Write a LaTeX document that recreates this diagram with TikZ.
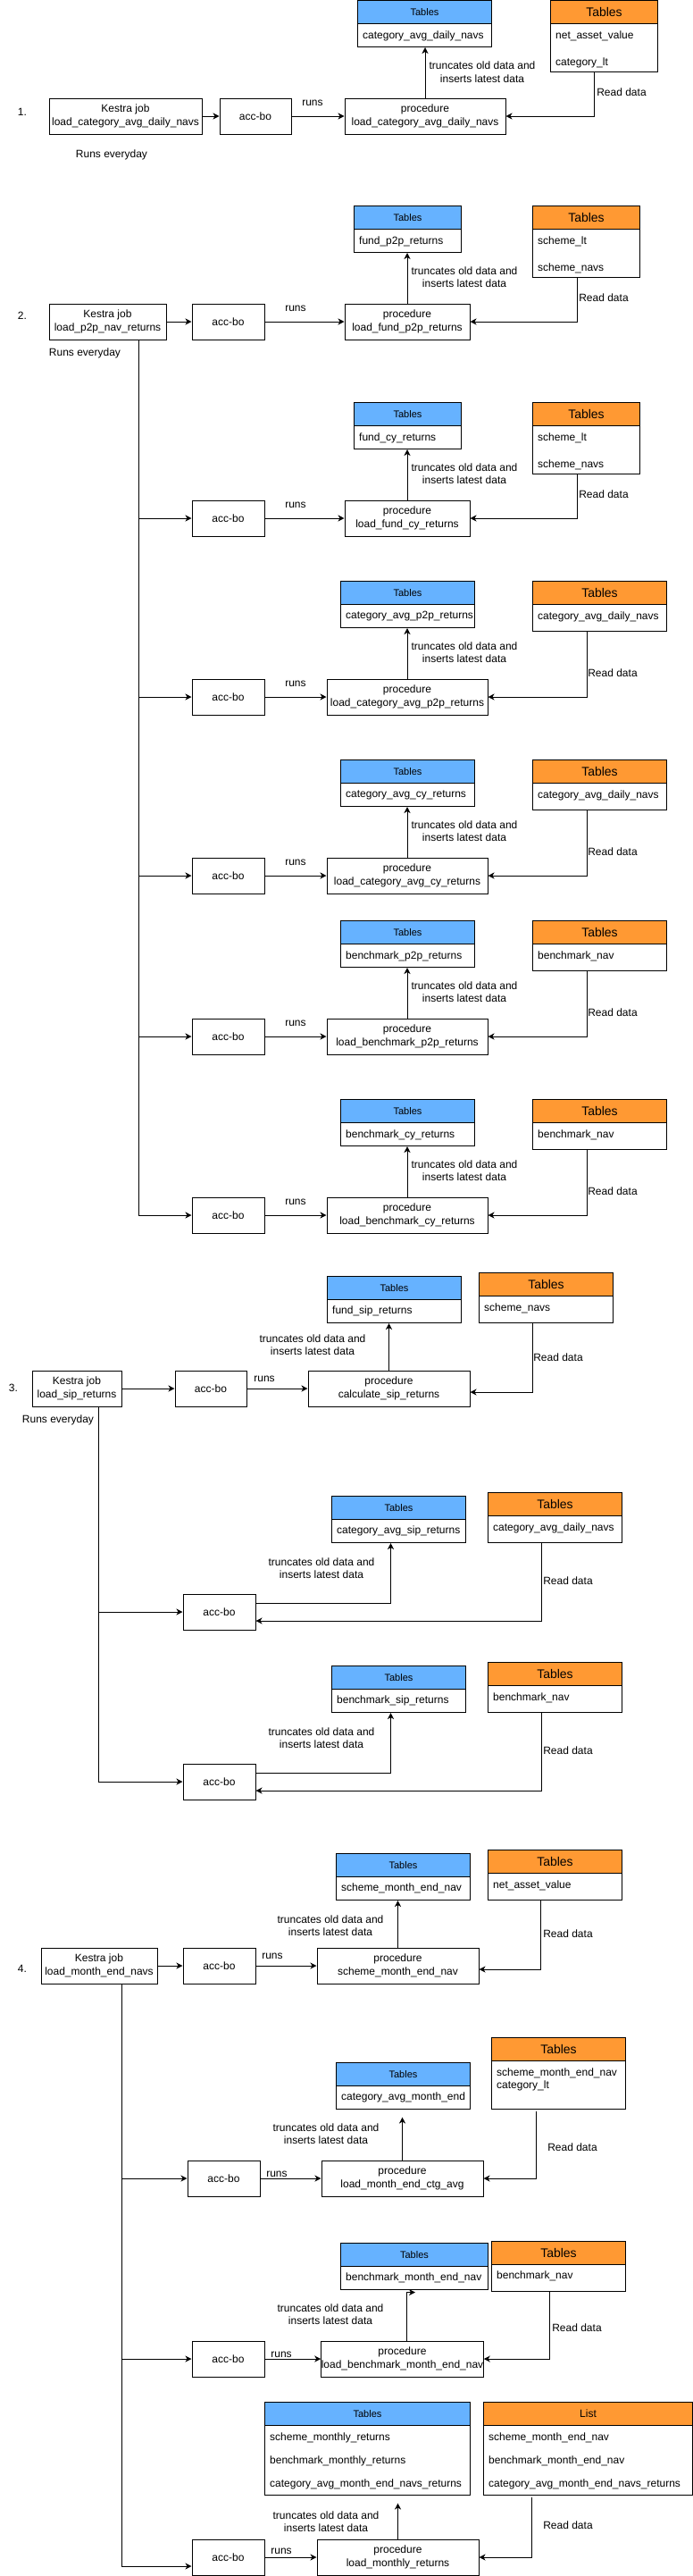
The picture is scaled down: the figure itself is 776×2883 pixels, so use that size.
\documentclass[tikz,border=0pt]{standalone}
\usepackage{fontspec}
\setmainfont{Liberation Sans}
\usetikzlibrary{arrows.meta}
\definecolor{bh}{HTML}{66B2FF}
\definecolor{oh}{HTML}{FF9933}
\newcommand\fs{\fontsize{12}{14.5}\selectfont}
\tikzset{
 x=1pt,y=-1pt,
 box/.style={draw,line width=1pt,fill=white,align=center,font=\fs,inner sep=0pt,minimum height=40pt},
 bhead/.style={draw,line width=1pt,fill=bh,anchor=north west,minimum height=26pt,inner sep=0pt,font=\fontsize{11}{13}\selectfont},
 ohead/.style={draw,line width=1pt,fill=oh,anchor=north west,minimum height=26pt,inner sep=0pt,font=\fontsize{14}{16}\selectfont},
 tbody/.style={draw,line width=1pt,fill=white,anchor=north west,inner sep=0pt},
 row/.style={anchor=west,inner sep=0pt,font=\fs},
 lbl/.style={align=center,inner sep=0pt,font=\fs},
 conn/.style={line width=1pt},
 arr/.style={line width=1pt,-{Stealth[length=7pt,width=7pt,inset=2pt]}},
}
% name, x, y, width, body height
\newcommand\btab[5]{%
 \node[bhead,minimum width=#4pt] (#1h) at (#2,#3) {Tables};
 \node[tbody,minimum width=#4pt,minimum height=#5pt] (#1) at (#2,#3+26) {};}
% name, x, y, width, body height, header
\newcommand\otab[6]{%
 \node[ohead,minimum width=#4pt] (#1h) at (#2,#3) {#6};
 \node[tbody,minimum width=#4pt,minimum height=#5pt] (#1) at (#2,#3+26) {};}
\begin{document}
\begin{tikzpicture}
\useasboundingbox (0,0) rectangle (776,2883);
%================ 1 ================
\node[lbl] (n1) at (25,125) {1.};
\node[box,minimum width=171pt] (k1) at (140.5,130) {Kestra job\\load\_category\_avg\_daily\_navs};
\node[box,minimum width=80pt] (a1) at (286,130) {acc-bo};
\node[box,minimum width=180pt] (p1) at (476,130) {procedure\\load\_category\_avg\_daily\_navs};
\btab{t1}{400}{0}{150}{26}
\node[row] (t1r1) at (406,40) {category\_avg\_daily\_navs};
\otab{o1}{616}{0}{120}{54}{Tables}
\node[row] (o1r1) at (622,40) {net\_asset\_value};
\node[row] (o1r2) at (622,70) {category\_lt};
\node[lbl] (l1a) at (350,115) {runs};
\node[lbl] (l1b) at (540,80.5) {truncates old data and\\inserts latest data};
\node[lbl] (l1c) at (696,103) {Read data};
\node[lbl] (l1d) at (125,173) {Runs everyday};
\draw[arr] (k1) -- (a1);
\draw[arr] (a1) -- (p1);
\draw[arr] (p1.north) -- (p1.north |- t1.south);
\coordinate (r1) at (665,80);
\draw[arr] (r1) |- (p1.east);
%================ 2 ================
\node[lbl] (n2) at (25,353) {2.};
\node[box,minimum width=131pt] (k2) at (120.5,360) {Kestra job\\load\_p2p\_nav\_returns};
\node[box,minimum width=81pt] (a2) at (255.5,360) {acc-bo};
\node[box,minimum width=140pt] (p2) at (456,360) {procedure\\load\_fund\_p2p\_returns};
\btab{t2}{396}{230}{120}{26}
\node[row] (t2r1) at (402,270) {fund\_p2p\_returns};
\otab{o2}{596}{230}{120}{54}{Tables}
\node[row] (o2r1) at (602,270) {scheme\_lt};
\node[row] (o2r2) at (602,300) {scheme\_navs};
\node[lbl] (l2a) at (331,345) {runs};
\node[lbl] (l2b) at (520,310) {truncates old data and\\inserts latest data};
\node[lbl] (l2c) at (676,333) {Read data};
\node[lbl] (l2d) at (95,395) {Runs everyday};
\draw[arr] (k2) -- (a2);
\draw[arr] (a2) -- (p2);
\draw[arr] (p2.north) -- (p2.north |- t2.south);
\coordinate (r2) at (646,310);
\draw[arr] (r2) |- (p2.east);
% 2b
\node[box,minimum width=81pt] (a3) at (255.5,580) {acc-bo};
\node[box,minimum width=140pt] (p3) at (456,580) {procedure\\load\_fund\_cy\_returns};
\btab{t3}{396}{450}{120}{26}
\node[row] (t3r1) at (402,490) {fund\_cy\_returns};
\otab{o3}{596}{450}{120}{54}{Tables}
\node[row] (o3r1) at (602,490) {scheme\_lt};
\node[row] (o3r2) at (602,520) {scheme\_navs};
\node[lbl] (l3a) at (331,565) {runs};
\node[lbl] (l3b) at (520,530) {truncates old data and\\inserts latest data};
\node[lbl] (l3c) at (676,553) {Read data};
\draw[arr] (a3) -- (p3);
\draw[arr] (p3.north) -- (p3.north |- t3.south);
\coordinate (r3) at (646,530);
\draw[arr] (r3) |- (p3.east);
% 2c
\node[box,minimum width=81pt] (a4) at (255.5,780) {acc-bo};
\node[box,minimum width=180pt] (p4) at (456,780) {procedure\\load\_category\_avg\_p2p\_returns};
\btab{t4}{381}{650}{150}{26}
\node[row] (t4r1) at (387,690) {category\_avg\_p2p\_returns};
\otab{o4}{596}{650}{150}{30}{Tables}
\node[row] (o4r1) at (602,690) {category\_avg\_daily\_navs};
\node[lbl] (l4a) at (331,765) {runs};
\node[lbl] (l4b) at (520,730) {truncates old data and\\inserts latest data};
\node[lbl] (l4c) at (686,753) {Read data};
\draw[arr] (a4) -- (p4);
\draw[arr] (p4.north) -- (p4.north |- t4.south);
\coordinate (r4) at (657,706);
\draw[arr] (r4) |- (p4.east);
% 2d
\node[box,minimum width=81pt] (a5) at (255.5,980) {acc-bo};
\node[box,minimum width=180pt] (p5) at (456,980) {procedure\\load\_category\_avg\_cy\_returns};
\btab{t5}{381}{850}{150}{26}
\node[row] (t5r1) at (387,890) {category\_avg\_cy\_returns};
\otab{o5}{596}{850}{150}{30}{Tables}
\node[row] (o5r1) at (602,890) {category\_avg\_daily\_navs};
\node[lbl] (l5a) at (331,965) {runs};
\node[lbl] (l5b) at (520,930) {truncates old data and\\inserts latest data};
\node[lbl] (l5c) at (686,953) {Read data};
\draw[arr] (a5) -- (p5);
\draw[arr] (p5.north) -- (p5.north |- t5.south);
\coordinate (r5) at (657,906);
\draw[arr] (r5) |- (p5.east);
% 2e
\node[box,minimum width=81pt] (a6) at (255.5,1160) {acc-bo};
\node[box,minimum width=180pt] (p6) at (456,1160) {procedure\\load\_benchmark\_p2p\_returns};
\btab{t6}{381}{1030}{150}{26}
\node[row] (t6r1) at (387,1070) {benchmark\_p2p\_returns};
\otab{o6}{596}{1030}{150}{30}{Tables}
\node[row] (o6r1) at (602,1070) {benchmark\_nav};
\node[lbl] (l6a) at (331,1145) {runs};
\node[lbl] (l6b) at (520,1110) {truncates old data and\\inserts latest data};
\node[lbl] (l6c) at (686,1133) {Read data};
\draw[arr] (a6) -- (p6);
\draw[arr] (p6.north) -- (p6.north |- t6.south);
\coordinate (r6) at (657,1086);
\draw[arr] (r6) |- (p6.east);
% 2f
\node[box,minimum width=81pt] (a7) at (255.5,1360) {acc-bo};
\node[box,minimum width=180pt] (p7) at (456,1360) {procedure\\load\_benchmark\_cy\_returns};
\btab{t7}{381}{1230}{150}{26}
\node[row] (t7r1) at (387,1270) {benchmark\_cy\_returns};
\otab{o7}{596}{1230}{150}{30}{Tables}
\node[row] (o7r1) at (602,1270) {benchmark\_nav};
\node[lbl] (l7a) at (331,1345) {runs};
\node[lbl] (l7b) at (520,1310) {truncates old data and\\inserts latest data};
\node[lbl] (l7c) at (686,1333) {Read data};
\draw[arr] (a7) -- (p7);
\draw[arr] (p7.north) -- (p7.north |- t7.south);
\coordinate (r7) at (657,1286);
\draw[arr] (r7) |- (p7.east);
% trunk 2
\coordinate (tk2) at (155,380);
\draw[arr] (tk2) |- (a7.west);
\coordinate (j3) at (155,580);
\coordinate (j4) at (155,780);
\coordinate (j5) at (155,980);
\coordinate (j6) at (155,1160);
\draw[arr] (j3) -- (a3.west);
\draw[arr] (j4) -- (a4.west);
\draw[arr] (j5) -- (a5.west);
\draw[arr] (j6) -- (a6.west);
%================ 3 ================
\node[lbl] (n3) at (15,1553) {3.};
\node[box,minimum width=100pt] (k3) at (86,1554) {Kestra job\\load\_sip\_returns};
\node[box,minimum width=80pt] (a8) at (236,1554) {acc-bo};
\node[box,minimum width=181pt] (p8) at (435.5,1554) {procedure\\calculate\_sip\_returns};
\btab{t8}{366}{1428}{150}{26}
\node[row] (t8r1) at (372,1467) {fund\_sip\_returns};
\otab{o8}{536}{1424}{150}{30}{Tables}
\node[row] (o8r1) at (542,1464) {scheme\_navs};
\node[lbl] (l8a) at (296,1543) {runs};
\node[lbl] (l8b) at (350,1505) {truncates old data and\\inserts latest data};
\node[lbl] (l8c) at (625,1519) {Read data};
\node[lbl] (l8d) at (65,1589) {Runs everyday};
\draw[arr] (k3) -- (a8);
\draw[arr] (a8) -- (p8);
\draw[arr] (p8.north) -- (p8.north |- t8.south);
\coordinate (r8) at (596,1480);
\draw[arr] (r8) |- ([yshift=-4pt]p8.east);
% 3b
\node[box,minimum width=81pt] (a9) at (245.5,1804) {acc-bo};
\btab{t9}{371}{1674}{150}{26}
\node[row] (t9r1) at (377,1713) {category\_avg\_sip\_returns};
\otab{o9}{546}{1670}{150}{30}{Tables}
\node[row] (o9r1) at (552,1710) {category\_avg\_daily\_navs};
\node[lbl] (l9b) at (360,1755) {truncates old data and\\inserts latest data};
\node[lbl] (l9c) at (636,1769) {Read data};
\draw[arr] ([yshift=10pt]a9.east) -| ([xshift=-9pt]t9.south);
\coordinate (r9) at (606,1726);
\draw[arr] (r9) |- ([yshift=-10pt]a9.east);
% 3c
\node[box,minimum width=81pt] (a10) at (245.5,1994) {acc-bo};
\btab{t10}{371}{1864}{150}{26}
\node[row] (t10r1) at (377,1903) {benchmark\_sip\_returns};
\otab{o10}{546}{1860}{150}{30}{Tables}
\node[row] (o10r1) at (552,1900) {benchmark\_nav};
\node[lbl] (l10b) at (360,1945) {truncates old data and\\inserts latest data};
\node[lbl] (l10c) at (636,1959) {Read data};
\draw[arr] ([yshift=10pt]a10.east) -| ([xshift=-9pt]t10.south);
\coordinate (r10) at (606,1916);
\draw[arr] (r10) |- ([yshift=-10pt]a10.east);
% trunk 3
\coordinate (tk3) at (110,1574);
\draw[arr] (tk3) |- (a10.west);
\coordinate (j9) at (110,1804);
\draw[arr] (j9) -- (a9.west);
%================ 4 ================
\node[lbl] (n4) at (25,2203) {4.};
\node[box,minimum width=130pt] (k4) at (111,2200) {Kestra job\\load\_month\_end\_navs};
\node[box,minimum width=81pt] (a11) at (245.5,2200) {acc-bo};
\node[box,minimum width=181pt] (p11) at (445.5,2200) {procedure\\scheme\_month\_end\_nav};
\btab{t11}{376}{2074}{150}{26}
\node[row] (t11r1) at (382,2113) {scheme\_month\_end\_nav};
\otab{o11}{546}{2070}{150}{30}{Tables}
\node[row] (o11r1) at (552,2110) {net\_asset\_value};
\node[lbl] (l11a) at (305,2189) {runs};
\node[lbl] (l11b) at (370,2155) {truncates old data and\\inserts latest data};
\node[lbl] (l11c) at (636,2164) {Read data};
\draw[arr] (k4) -- (a11);
\draw[arr] (a11) -- (p11);
\draw[arr] (p11.north) -- (p11.north |- t11.south);
\coordinate (r11) at (605,2126);
\draw[arr] (r11) |- ([yshift=-4pt]p11.east);
% 4b
\node[box,minimum width=81pt] (a12) at (250.5,2438) {acc-bo};
\node[box,minimum width=181pt] (p12) at (450.5,2438) {procedure\\load\_month\_end\_ctg\_avg};
\btab{t12}{376}{2308}{150}{26}
\node[row] (t12r1) at (382,2347) {category\_avg\_month\_end};
\otab{o12}{550}{2280}{150}{54}{Tables}
\node[row] (o12r1) at (556,2320) {scheme\_month\_end\_nav};
\node[row] (o12r2) at (556,2334) {category\_lt};
\node[lbl] (l12a) at (310,2433) {runs};
\node[lbl] (l12b) at (365,2388) {truncates old data and\\inserts latest data};
\node[lbl] (l12c) at (641,2403) {Read data};
\draw[arr] (a12) -- (p12);
\draw[arr] (p12.north) -- ++(0,-48);
\coordinate (r12) at (600,2363);
\draw[arr] (r12) |- (p12.east);
% 4c
\node[box,minimum width=81pt] (a13) at (255.5,2640) {acc-bo};
\node[box,minimum width=181pt] (p13) at (450.5,2640) {procedure\\load\_benchmark\_month\_end\_nav};
\btab{t13}{381}{2510}{165}{26}
\node[row] (t13r1) at (387,2549) {benchmark\_month\_end\_nav};
\otab{o13}{550}{2508}{150}{30}{Tables}
\node[row] (o13r1) at (556,2547) {benchmark\_nav};
\node[lbl] (l13a) at (315,2635) {runs};
\node[lbl] (l13b) at (370,2590) {truncates old data and\\inserts latest data};
\node[lbl] (l13c) at (646,2605) {Read data};
\draw[arr] (a13) -- (p13);
\draw[arr] ([xshift=4.5pt]p13.north) |- ++(10,-54);
\coordinate (r13) at (615,2564);
\draw[arr] (r13) |- (p13.east);
% 4d
\node[box,minimum width=81pt] (a14) at (255.5,2862) {acc-bo};
\node[box,minimum width=181pt] (p14) at (445.5,2862) {procedure\\load\_monthly\_returns};
\btab{t14}{296}{2688}{230}{78}
\node[row] (t14r1) at (302,2728) {scheme\_monthly\_returns};
\node[row] (t14r2) at (302,2754) {benchmark\_monthly\_returns};
\node[row] (t14r3) at (302,2780) {category\_avg\_month\_end\_navs\_returns};
\otab{o14}{541}{2688}{234}{78}{\fontsize{12}{14}\selectfont List}
\node[row] (o14r1) at (547,2728) {scheme\_month\_end\_nav};
\node[row] (o14r2) at (547,2754) {benchmark\_month\_end\_nav};
\node[row] (o14r3) at (547,2780) {category\_avg\_month\_end\_navs\_returns};
\node[lbl] (l14a) at (315,2855) {runs};
\node[lbl] (l14b) at (365,2822) {truncates old data and\\inserts latest data};
\node[lbl] (l14c) at (636,2826) {Read data};
\draw[arr] (a14) -- (p14);
\draw[arr] (p14.north) -- ++(0,-40);
\coordinate (r14) at (595,2795);
\draw[arr] (r14) |- (p14.east);
% trunk 4
\coordinate (tk4) at (136,2220);
\draw[arr] (tk4) |- ([yshift=-10pt]a14.west);
\coordinate (j12) at (136,2438);
\coordinate (j13) at (136,2640);
\draw[arr] (j12) -- (a12.west);
\draw[arr] (j13) -- (a13.west);
\end{tikzpicture}
\end{document}
